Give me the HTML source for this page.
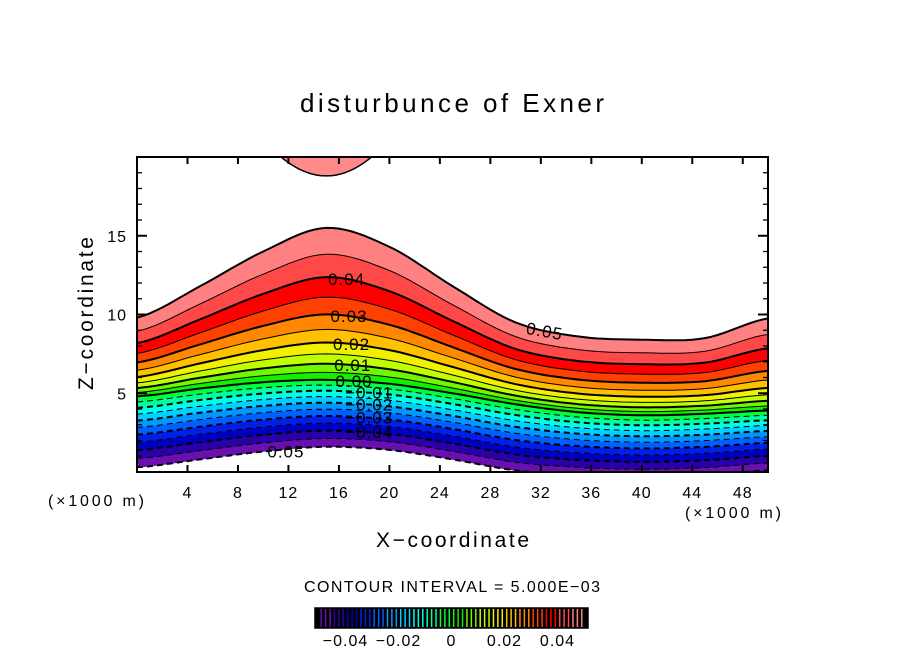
<!DOCTYPE html>
<html><head><meta charset="utf-8"><style>
body{margin:0;background:#fff;}
svg text{font-family:"Liberation Sans",sans-serif;}
</style></head><body>
<svg id="chart" width="904" height="654" viewBox="0 0 904 654" xmlns="http://www.w3.org/2000/svg">
<text x="300" y="112" font-size="26" textLength="304" lengthAdjust="spacing">disturbunce of Exner</text>
<defs><clipPath id="plotclip"><rect x="137" y="157" width="631" height="315"/></clipPath></defs>
<g id="plot" clip-path="url(#plotclip)"></g>
<g id="labels"></g>
<rect x="137" y="157" width="631" height="315" fill="none" stroke="#000" stroke-width="2"/>
<g id="axes"></g>
<text x="48" y="506" font-size="16" textLength="96" lengthAdjust="spacing">(×1000 m)</text>
<text x="685" y="518" font-size="16" textLength="96" lengthAdjust="spacing">(×1000 m)</text>
<text x="376" y="547" font-size="21" textLength="153" lengthAdjust="spacing">X−coordinate</text>
<text transform="translate(93,390) rotate(-90)" font-size="21" textLength="153" lengthAdjust="spacing">Z−coordinate</text>
<text x="304" y="592" font-size="16" textLength="296" lengthAdjust="spacing">CONTOUR INTERVAL = 5.000E−03</text>
<g id="colorbar"></g>
</svg>
<script>
const xs = [0,5,10,15,20,25,30,35,40,45,50];
const zTop = [9.8,11.8,14.0,15.5,14.3,11.8,9.5,8.6,8.4,8.5,9.75];
const zMid = [4.8,5.3,5.7,5.85,5.6,5.0,4.3,3.8,3.6,3.7,3.9];
const zBot = [0.3,0.8,1.3,1.6,1.4,0.8,0.1,-0.2,-0.3,-0.2,0.1];
const levels = [-0.05,-0.045,-0.04,-0.035,-0.03,-0.025,-0.02,-0.015,-0.01,-0.005,0,0.005,0.01,0.015,0.02,0.025,0.03,0.035,0.04,0.045,0.05];
const bandColors = ["#6a10b0","#2a00a8","#0000c0","#0020e8","#0060ff","#0098ff","#00d0ff","#00ffe8","#00ffa0","#00ff40","#10f000","#70f800","#c0ff00","#f0f000","#ffc000","#ff8800","#ff4000","#ff0000","#ff4848","#ff8080"];
const xTicks = [4,8,12,16,20,24,28,32,36,40,44,48];
const yTicks = [5,10,15];
const cbLabels = [-0.04,-0.02,0,0.02,0.04];
const labelLevels = [0.04,0.03,0.02,0.01,0,-0.01,-0.02,-0.03,-0.04];
const labelX = [16.6,16.8,17.0,17.1,17.2,18.4,18.4,18.4,18.4];

const X0=137,X1=768,Y0=472,Y1=157, XMAX=50, ZMAX=20;
const sx = x => X0 + (X1-X0)*x/XMAX;
const sy = z => Y0 - (Y0-Y1)*z/ZMAX;
const NS='http://www.w3.org/2000/svg';
function mk(tag, attrs, parent){const e=document.createElementNS(NS,tag);for(const k in attrs)e.setAttribute(k,attrs[k]);parent.appendChild(e);return e;}
function interp(arr, x){
  let i=0; while(i<xs.length-2 && x>xs[i+1]) i++;
  const t=(x-xs[i])/(xs[i+1]-xs[i]);
  const p0=arr[Math.max(i-1,0)],p1=arr[i],p2=arr[i+1],p3=arr[Math.min(i+2,arr.length-1)];
  const t2=t*t,t3=t2*t;
  return 0.5*((2*p1)+(-p0+p2)*t+(2*p0-5*p1+4*p2-p3)*t2+(-p0+3*p1-3*p2+p3)*t3);
}
function g(t,k){return (Math.exp(k*t)-1)/(Math.exp(k)-1);}
function levelZ(c,x){
  if(c>=0){const t=c/0.05;return interp(zMid,x)+(interp(zTop,x)-interp(zMid,x))*g(t,1.4);}
  const t=(c+0.05)/0.05;return interp(zBot,x)+(interp(zMid,x)-interp(zBot,x))*g(t,-0.5);
}
const sampleX=[];for(let x=0;x<=50.001;x+=0.5)sampleX.push(x);
function pts(c){return sampleX.map(x=>[sx(x),sy(levelZ(c,x))]);}
const plot=document.getElementById('plot');
for(let i=0;i<levels.length-1;i++){
  const lo=pts(levels[i]),hi=pts(levels[i+1]).reverse();
  const d='M'+lo.concat(hi).map(p=>p[0].toFixed(1)+','+p[1].toFixed(1)).join('L')+'Z';
  const p=mk('path',{d:d,fill:bandColors[i],stroke:bandColors[i],'stroke-width':0.6},plot);
  
  
}
{
  const cx=15, half=3.8, zb=18.8;
  let d='';
  for(let x=cx-half-0.6;x<=cx+half+0.61;x+=0.2){
    const u=(x-cx)/half;const z=zb+1.35*u*u;
    d+=(d?'L':'M')+sx(x).toFixed(1)+','+sy(z).toFixed(1);
  }
  const pf=mk('path',{d:d+'Z',fill:'#ff8a8a',stroke:'#000','stroke-width':1.5},plot);
  
  
}
for(let i=0;i<levels.length;i++){
  const c=levels[i];
  const d='M'+pts(c).map(p=>p[0].toFixed(1)+','+p[1].toFixed(1)).join('L');
  const major=Math.abs(Math.round(c*1000))%10===0;
  const attrs={d:d,fill:'none',stroke:'#000','stroke-width':major?2:1};
  if(c<0)attrs['stroke-dasharray']='6,4';
  const l=mk('path',attrs,plot);
  
  
}
const labels=document.getElementById('labels');
labelLevels.forEach((c,i)=>{
  const x=labelX[i];
  const t=mk('text',{x:sx(x),y:sy(levelZ(c,x))+6,'font-size':17,'text-anchor':'middle','letter-spacing':1},labels);
  t.textContent=(c<0?'−':'')+Math.abs(c).toFixed(2);
  
  
});
{
  const t=mk('text',{x:sx(11.8),y:sy(levelZ(-0.05,11.8))+8,'font-size':17,'text-anchor':'middle','letter-spacing':1},labels);
  t.textContent='0.05';
  
  
  const x=32.3;const t2=mk('text',{x:sx(x),y:sy(levelZ(0.05,x))+6,'font-size':17,'text-anchor':'middle','letter-spacing':1,transform:'rotate(10 '+sx(x)+' '+sy(levelZ(0.05,x))+')'},labels);
  t2.textContent='0.05';
  
  
}
const axes=document.getElementById('axes');
xTicks.forEach(v=>{
  const x=sx(v);
  mk('line',{x1:x,y1:Y0,x2:x,y2:Y0-7,stroke:'#000','stroke-width':2},axes);
  mk('line',{x1:x,y1:Y1,x2:x,y2:Y1+7,stroke:'#000','stroke-width':2},axes);
  const t=mk('text',{x:x,y:Y0+26,'font-size':16,'text-anchor':'middle','letter-spacing':1},axes);
  t.textContent=v;
  
  
});
for(let z=1;z<20;z++){
  const y=sy(z),len=(z%5===0)?10:5;
  mk('line',{x1:X0,y1:y,x2:X0+len,y2:y,stroke:'#000','stroke-width':(z%5===0)?2:1.3},axes);
  mk('line',{x1:X1,y1:y,x2:X1-len,y2:y,stroke:'#000','stroke-width':(z%5===0)?2:1.3},axes);
}
yTicks.forEach(v=>{
  const t=mk('text',{x:X0-10,y:sy(v)+6,'font-size':16,'text-anchor':'end','letter-spacing':1},axes);
  t.textContent=v;
  
  
});
const cb=document.getElementById('colorbar');
const CB0=315,CB1=588,CBy=608,CBh=20;
mk('rect',{x:CB0,y:CBy,width:CB1-CB0,height:CBh,fill:'#000',stroke:'#000','stroke-width':1.5},cb);
const cbx=v=>CB0+4+(CB1-CB0-8)*(v+0.05)/0.1;
for(let i=0;i<bandColors.length;i++){
  for(let k=0;k<3;k++){
    const v=levels[i]+0.005*(k+0.5)/3;
    mk('line',{x1:cbx(v),y1:CBy+1,x2:cbx(v),y2:CBy+CBh-1,stroke:bandColors[i],'stroke-width':1.5},cb);
  }
}
cbLabels.forEach(v=>{
  const t=mk('text',{x:cbx(v),y:CBy+38,'font-size':16,'text-anchor':'middle','letter-spacing':1},cb);
  t.textContent=v===0?'0':(v<0?'−':'')+Math.abs(v).toFixed(2);
  
  
});
</script>
</body></html>
